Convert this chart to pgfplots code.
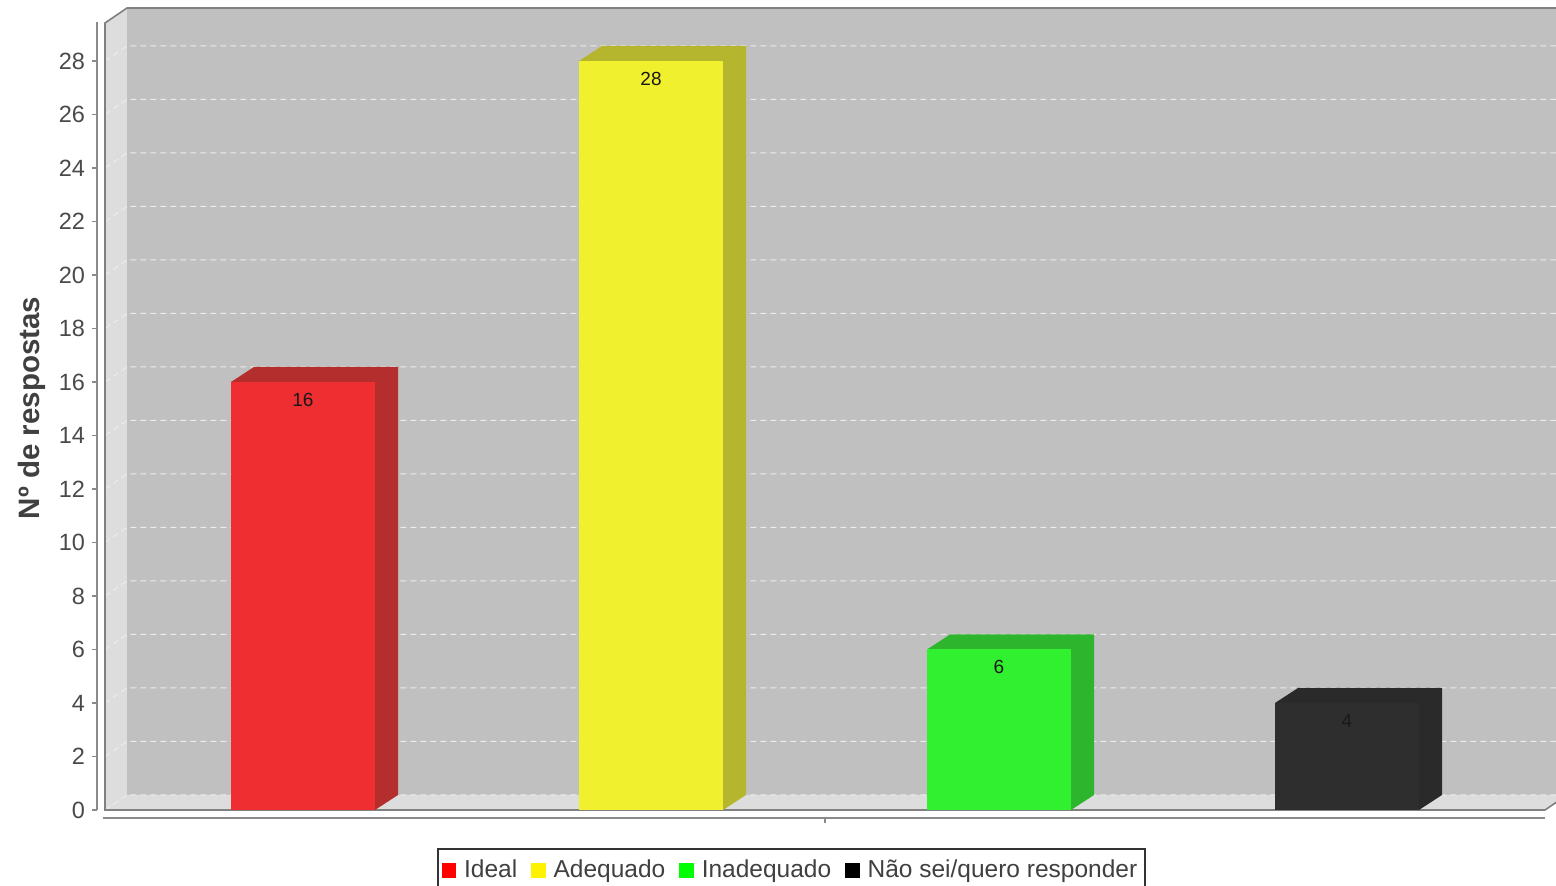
\documentclass[border=0pt]{standalone}
\usepackage{pgfplots}
\pgfplotsset{compat=1.18}
\usepackage{fontspec}
\setmainfont{Liberation Sans}
\definecolor{wallback}{HTML}{C0C0C0}
\definecolor{wallside}{HTML}{DDDDDD}
\definecolor{outline}{HTML}{808080}
\definecolor{axisgray}{HTML}{8A8A8A}
\definecolor{tickgray}{HTML}{4A4A4A}
\definecolor{labelgray}{HTML}{404040}
\definecolor{gridcol}{HTML}{ECECEC}
\definecolor{redfront}{HTML}{EE2E30}
\definecolor{redside}{HTML}{B52E2E}
\definecolor{yelfront}{HTML}{F0F02E}
\definecolor{yelside}{HTML}{B5B52E}
\definecolor{grnfront}{HTML}{30F030}
\definecolor{grnside}{HTML}{2EB52E}
\definecolor{blkfront}{HTML}{2E2E2E}
\definecolor{blkside}{HTML}{2A2A2A}
\begin{document}
\begin{tikzpicture}
\begin{axis}[
  at={(48.5pt,38pt)}, anchor=south west,
  scale only axis, width=729.5pt, height=394pt,
  xmin=-0.59195, xmax=3.60057, ymin=0, ymax=29.458,
  clip=false,
  axis x line=none, axis y line=left,
  y axis line style={-, draw=axisgray, line width=0.9pt},
  ytick={0,2,...,28},
  tick align=outside, major tick length=2.5pt,
  ytick style={draw=axisgray, line width=0.8pt},
  /pgf/number format/assume math mode=true,
  yticklabel style={font=\fontsize{11.75}{14}\selectfont, text=tickgray},
  ylabel={Nº de respostas},
  every axis y label/.style={at={(axis description cs:-0.04455,0.5102)}, rotate=90, anchor=center, font=\bfseries\fontsize{14.75}{17}\selectfont, text=labelgray},
  unbounded coords=jump,
  legend columns=4,
  legend image code/.code={\fill[#1, draw=none] (0pt,-3.6pt) rectangle (7.2pt,3.6pt);},
  legend style={at={(axis description cs:0.4760,-0.0483)}, anchor=north,
    draw=black!80, line width=0.9pt, fill=white,
    font=\fontsize{12.25}{14}\selectfont, text=labelgray,
    inner xsep=2pt, inner ysep=3.5pt,
    nodes={inner sep=2pt},
    /tikz/every odd column/.append style={column sep=2pt},
    /tikz/every even column/.append style={column sep=5pt}},
]
% walls
\addplot[forget plot, fill=wallback, draw=none] coordinates {(-0.50575,0.561) (3.6322,0.561) (3.6322,29.98) (-0.50575,29.98)} --cycle;
\addplot[forget plot, fill=wallside, draw=none] coordinates {(-0.56897,0) (-0.50575,0.561) (-0.50575,29.98) (-0.56897,29.42)} --cycle;
\addplot[forget plot, fill=wallside, draw=none] coordinates {(-0.56897,0) (3.56897,0) (3.6322,0.561) (-0.50575,0.561)} --cycle;
% grid
\addplot[forget plot, gridcol, line width=0.5pt, dash pattern=on 3pt off 2pt] coordinates {
(-0.56897,0) (-0.50575,0.561) (3.6322,0.561) (nan,nan)
(-0.56897,2) (-0.50575,2.561) (3.6322,2.561) (nan,nan)
(-0.56897,4) (-0.50575,4.561) (3.6322,4.561) (nan,nan)
(-0.56897,6) (-0.50575,6.561) (3.6322,6.561) (nan,nan)
(-0.56897,8) (-0.50575,8.561) (3.6322,8.561) (nan,nan)
(-0.56897,10) (-0.50575,10.561) (3.6322,10.561) (nan,nan)
(-0.56897,12) (-0.50575,12.561) (3.6322,12.561) (nan,nan)
(-0.56897,14) (-0.50575,14.561) (3.6322,14.561) (nan,nan)
(-0.56897,16) (-0.50575,16.561) (3.6322,16.561) (nan,nan)
(-0.56897,18) (-0.50575,18.561) (3.6322,18.561) (nan,nan)
(-0.56897,20) (-0.50575,20.561) (3.6322,20.561) (nan,nan)
(-0.56897,22) (-0.50575,22.561) (3.6322,22.561) (nan,nan)
(-0.56897,24) (-0.50575,24.561) (3.6322,24.561) (nan,nan)
(-0.56897,26) (-0.50575,26.561) (3.6322,26.561) (nan,nan)
(-0.56897,28) (-0.50575,28.561) (3.6322,28.561)
};
% outline of walls
\addplot[forget plot, outline, line width=0.8pt] coordinates {(3.6322,29.98) (-0.50575,29.98) (-0.56897,29.42) (-0.56897,0) (3.56897,0) (3.6322,0.561)};
% x axis line and tick
\addplot[forget plot, axisgray, line width=1pt] coordinates {(-0.57471,-0.299) (3.56897,-0.299)};
\addplot[forget plot, axisgray, line width=0.8pt] coordinates {(1.5,-0.299) (1.5,-0.486)};
% bars: top + side faces
\addplot[forget plot, fill=redside, draw=none] coordinates {(-0.2069,16) (-0.1408,16.561) (0.2730,16.561) (0.2730,0.561) (0.2069,0) (0.2069,16)} --cycle;
\addplot[forget plot, fill=yelside, draw=none] coordinates {(0.7931,28) (0.8592,28.561) (1.2730,28.561) (1.2730,0.561) (1.2069,0) (1.2069,28)} --cycle;
\addplot[forget plot, fill=grnside, draw=none] coordinates {(1.7931,6) (1.8592,6.561) (2.2730,6.561) (2.2730,0.561) (2.2069,0) (2.2069,6)} --cycle;
\addplot[forget plot, fill=blkside, draw=none] coordinates {(2.7931,4) (2.8592,4.561) (3.2730,4.561) (3.2730,0.561) (3.2069,0) (3.2069,4)} --cycle;
% bars: front faces
\pgfplotsset{frontbar/.style={forget plot, ybar, bar width=0.4138, bar shift=0pt, draw=none,
  nodes near coords, every node near coord/.append style={anchor=center, yshift=-8.75pt, font=\fontsize{9.5}{11}\selectfont, text=black!90}}}
\addplot[frontbar, fill=redfront] coordinates {(0,16)};
\addplot[frontbar, fill=yelfront] coordinates {(1,28)};
\addplot[frontbar, fill=grnfront] coordinates {(2,6)};
\addplot[frontbar, fill=blkfront] coordinates {(3,4)};
% legend
\addlegendimage{fill=red}
\addlegendentry{Ideal}
\addlegendimage{fill=yellow}
\addlegendentry{Adequado}
\addlegendimage{fill=green}
\addlegendentry{Inadequado}
\addlegendimage{fill=black}
\addlegendentry{Não sei/quero responder}
\end{axis}
\pgfresetboundingbox
\useasboundingbox (0,0) rectangle (778pt,443pt);
\end{tikzpicture}
\end{document}
